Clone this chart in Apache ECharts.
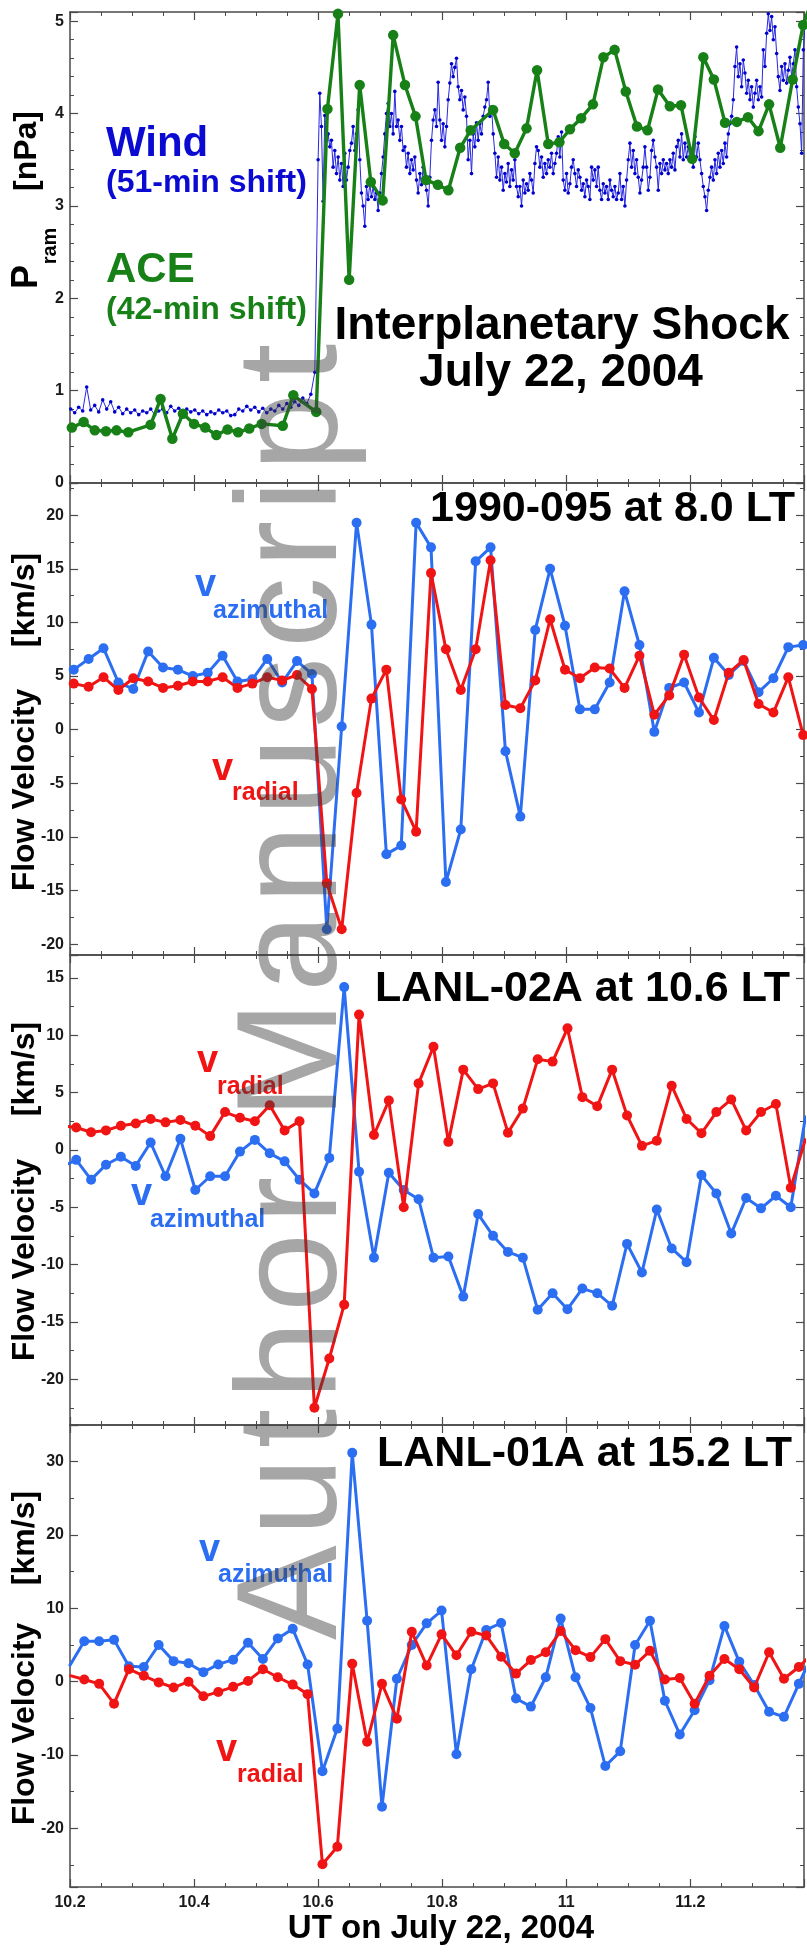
<!DOCTYPE html>
<html><head><meta charset="utf-8">
<script src="https://cdn.jsdelivr.net/npm/echarts@6.0.0/dist/echarts.min.js"></script>
<style>html,body{margin:0;padding:0;background:#fff}#c{width:807px;height:1954px}</style>
</head><body><div id="c"></div>
<script>
// ---------------- DATA ----------------
// x axis (UT hours on July 22, 2004)
const X_MIN = 10.2, X_MAX = 11.3833, X_STEP = 0.2;

// Wind ram pressure [nPa] (51-min shift)
const WIND_PRE_T0 = 10.2011, WIND_PRE_DT = 0.006452;   // pre-shock sampling
const WIND_POST_T0 = 10.6000, WIND_POST_DT = 0.002688; // post-shock sampling
const windPreP = [
0.80,0.76,0.82,0.78,1.04,0.79,0.84,0.77,0.90,0.80,
0.88,0.77,0.82,0.75,0.80,0.76,0.79,0.74,0.78,0.76,
0.80,0.74,0.78,0.80,0.76,0.83,0.78,0.81,0.76,0.80,
0.77,0.79,0.75,0.78,0.74,0.77,0.75,0.79,0.76,0.78,
0.73,0.74,0.80,0.78,0.83,0.79,0.82,0.77,0.81,0.76,
0.80,0.78,0.84,0.80,0.86,0.82,0.88,0.84,0.92,0.86,
0.96,1.20];
const windPostP = [
3.50,4.22,3.86,3.05,3.98,3.71,3.78,3.64,3.71,3.42,
3.60,3.35,3.53,3.28,3.46,3.21,3.57,3.28,3.42,3.60,
3.68,3.86,3.60,3.78,4.04,3.50,3.14,3.00,2.78,3.21,
3.07,3.24,3.10,3.21,3.07,3.14,2.95,3.14,3.35,3.53,
3.78,4.00,4.11,3.86,4.00,3.78,4.24,3.86,3.93,3.71,
3.86,3.60,3.64,3.42,3.57,3.35,3.50,3.39,3.53,3.28,
3.14,3.35,3.23,3.42,3.28,3.17,3.00,3.31,3.71,3.93,
4.04,3.86,4.34,3.93,3.71,3.89,3.64,3.86,4.15,4.33,
4.54,4.40,4.50,4.60,4.29,4.15,4.25,4.04,4.18,3.97,
3.50,3.71,3.35,3.78,3.64,3.90,
3.71,3.89,3.78,3.97,4.07,4.15,4.34,3.97,4.07,3.78,
3.57,3.31,3.53,3.28,3.42,3.17,3.35,3.26,3.46,3.21,
3.39,3.28,3.50,3.21,3.10,3.21,3.00,3.28,3.14,3.24,
3.17,3.35,3.28,3.14,3.46,3.64,3.60,3.42,3.53,3.31,
3.46,3.35,3.50,3.42,3.57,3.35,3.46,3.57,3.75,3.53,
3.80,3.28,3.17,3.35,3.14,3.24,3.42,3.50,3.35,3.21,
3.39,3.31,3.17,3.24,3.10,3.28,3.21,3.07,3.42,3.28,
3.39,3.21,3.42,3.17,3.07,3.24,3.14,3.21,3.07,3.28,
3.17,3.10,3.21,3.07,3.14,3.35,3.07,3.21,3.00,3.28,
3.50,3.68,3.42,3.60,3.35,3.50,3.31,3.14,3.28,3.42,
3.64,
3.42,3.17,3.31,3.60,3.71,3.53,3.42,3.17,3.46,3.35,
3.50,3.39,3.46,3.35,3.50,3.42,3.57,3.39,3.64,3.71,
3.53,3.78,3.50,3.68,3.53,3.64,3.50,3.60,3.42,3.75,
3.53,3.68,3.50,3.35,3.21,3.10,2.95,3.17,3.31,3.42,
3.28,3.50,3.35,3.57,3.42,3.60,3.46,3.68,3.53,3.78,
3.89,3.97,4.15,4.51,4.72,4.40,4.54,4.29,4.58,4.44,
4.22,4.36,4.15,4.29,4.07,4.22,4.36,4.15,4.29,4.18,
4.69,4.51,4.87,5.08,4.90,5.05,4.80,4.94,4.65,4.40,
4.25,4.51,4.36,4.54,4.33,4.47,4.61,4.40,4.54,4.69,
4.29,4.07,3.89,3.57,4.69,4.94];

// ACE ram pressure [nPa] (42-min shift)
const aceTime = [10.203,10.222,10.240,10.258,10.275,10.294,10.330,10.346,10.365,10.382,
10.400,10.418,10.436,10.454,10.471,10.489,10.509,10.543,10.560,10.597,
10.615,10.632,10.650,10.667,10.685,10.704,10.721,10.740,10.757,10.774,
10.793,10.810,10.829,10.846,10.882,10.900,10.917,10.936,10.953,10.971,
10.989,11.006,11.024,11.043,11.060,11.078,11.096,11.114,11.131,11.148,
11.167,11.185,11.203,11.221,11.238,11.256,11.275,11.293,11.310,11.327,
11.345,11.365,11.382,11.400];
const aceP = [0.60,0.66,0.57,0.56,0.57,0.55,0.63,0.91,0.48,0.75,
0.64,0.60,0.52,0.58,0.55,0.59,0.64,0.62,0.95,0.77,
4.05,5.08,2.20,4.31,3.26,3.06,4.85,4.31,3.97,3.28,
3.23,3.17,3.63,3.82,4.04,3.67,3.57,3.84,4.47,3.67,
3.69,3.83,3.95,4.10,4.61,4.69,4.24,3.86,3.82,4.26,
4.08,4.09,3.51,4.61,4.37,3.90,3.91,3.96,3.81,4.10,
3.63,4.37,4.96,5.30];

// 1990-095 at 8.0 LT
const s1990Time = [10.206,10.230,10.254,10.278,10.302,10.326,10.350,10.374,10.398,10.422,
10.446,10.470,10.494,10.518,10.542,10.566,10.590,10.614,10.638,10.662,
10.686,10.710,10.734,10.758,10.782,10.806,10.830,10.854,10.878,10.902,
10.926,10.950,10.974,10.998,11.022,11.046,11.070,11.094,11.118,11.142,
11.166,11.190,11.214,11.238,11.262,11.286,11.310,11.334,11.358,11.382];
const s1990Azi = [5.6,6.6,7.6,4.4,3.8,7.3,5.8,5.6,5.0,5.3,
6.9,4.5,4.7,6.6,4.4,6.4,5.2,-18.6,0.3,19.3,
9.8,-11.6,-10.8,19.3,17.0,-14.2,-9.3,15.7,17.0,-2.0,
-8.1,9.3,15.0,9.7,1.9,1.9,4.4,12.9,7.9,-0.2,
3.9,4.4,1.6,6.7,5.1,6.4,3.5,4.8,7.7,7.9];
const s1990Rad = [4.3,4.0,4.9,3.7,4.8,4.5,3.9,4.1,4.5,4.5,
4.9,3.9,4.3,4.9,4.6,5.1,3.8,-14.3,-18.6,-5.9,
2.9,5.6,-6.5,-9.5,14.6,7.5,3.7,7.5,15.8,2.3,
2.0,4.6,10.3,5.6,4.8,5.8,5.7,3.9,6.9,1.4,
3.2,7.0,3.0,0.9,5.3,6.5,2.4,1.6,4.9,-0.5];

// LANL-02A at 10.6 LT
const l02Time = [10.186,10.210,10.234,10.258,10.282,10.306,10.330,10.354,10.378,10.402,
10.426,10.450,10.474,10.498,10.522,10.546,10.570,10.594,10.618,10.642,
10.666,10.690,10.714,10.738,10.762,10.786,10.810,10.834,10.858,10.882,
10.906,10.930,10.954,10.978,11.002,11.026,11.050,11.074,11.098,11.122,
11.146,11.170,11.194,11.218,11.242,11.266,11.290,11.314,11.338,11.362,11.386];
const l02Rad = [2.1,1.95,1.54,1.7,2.1,2.3,2.7,2.4,2.6,2.1,
1.2,3.3,2.8,2.5,3.9,1.7,2.5,-22.5,-18.2,-13.5,
11.8,1.3,4.3,-5.0,5.8,9.0,0.7,7.0,5.3,5.8,
1.5,3.6,7.9,7.7,10.6,4.6,3.8,7.0,3.0,0.35,
0.8,5.6,2.7,1.45,3.3,4.4,1.7,3.3,4.0,-3.3,1.0];
const l02Azi = [-1.5,-0.87,-2.6,-1.3,-0.6,-1.4,0.64,-2.3,0.96,-3.5,
-2.3,-2.3,-0.15,0.87,-0.3,-1.0,-2.6,-3.8,-0.7,14.2,
-1.9,-9.4,-2.0,-3.5,-4.3,-9.4,-9.3,-12.8,-5.6,-7.5,
-8.9,-9.4,-13.95,-12.5,-13.9,-12.1,-12.5,-13.6,-8.2,-10.7,
-5.2,-8.6,-9.8,-2.2,-3.8,-7.3,-4.2,-5.1,-4.0,-5.0,3.0];

// LANL-01A at 15.2 LT
const l01Time = [10.199,10.223,10.247,10.271,10.295,10.319,10.343,10.367,10.391,10.415,
10.439,10.463,10.487,10.511,10.535,10.559,10.583,10.607,10.631,10.655,
10.679,10.703,10.727,10.751,10.775,10.799,10.823,10.847,10.871,10.895,
10.919,10.943,10.967,10.991,11.015,11.039,11.063,11.087,11.111,11.135,
11.159,11.183,11.207,11.231,11.255,11.279,11.303,11.327,11.351,11.375,11.399];
const l01Rad = [0.86,0.3,-0.3,-3.0,1.7,0.8,-0.1,-0.8,0.0,-2.0,
-1.4,-0.7,0.1,1.7,0.6,-0.4,-1.7,-24.9,-22.5,2.45,
-8.2,-0.3,-5.05,6.8,2.2,6.45,3.6,6.8,6.3,3.4,
1.1,2.95,4.0,6.9,4.3,3.35,5.8,2.8,2.3,4.2,
0.3,0.5,-3.0,0.8,3.1,1.7,-0.8,4.0,0.4,2.0,4.0];
const l01Azi = [2.1,5.5,5.5,5.7,2.1,2.0,5.0,2.8,2.5,1.3,
2.35,3.0,5.3,3.1,5.9,7.2,2.35,-12.2,-6.4,31.2,
8.3,-17.05,0.4,5.0,7.95,9.7,-9.9,1.7,7.05,8.0,
-2.3,-3.4,0.6,8.6,0.6,-3.6,-11.5,-9.5,5.0,8.3,
-2.6,-7.2,-3.9,0.2,7.6,2.7,-0.45,-4.1,-4.8,-0.3,4.1];

// y-axis ranges and tick steps per panel
const yMins = [0, -21, -24, -28];
const yMaxs = [5.1, 23, 17, 35];
const ySteps = [1, 5, 5, 10];
const yMinorSplits = [5, 2, 2, 2];

// ---------------- BUILD ----------------
const windTime = windPreP.map((_, i) => WIND_PRE_T0 + i * WIND_PRE_DT)
  .concat(windPostP.map((_, i) => WIND_POST_T0 + i * WIND_POST_DT));
const windP = windPreP.concat(windPostP);
const pairs = (t, v) => t.map((x, i) => [x, v[i]]);

const FONT = '"Liberation Sans", Arial, Helvetica, sans-serif';
const AX = '#4a4a4a';
const BLUE = '#2b6ef2', RED = '#f01414', GREEN = '#178017', WINDC = '#0000cc';
const isMult = (v, s) => { const q = v / s; return Math.abs(q - Math.round(q)) < 1e-6; };

const layout = [
  {top: 12, height: 471}, {top: 483, height: 472},
  {top: 955, height: 470}, {top: 1425, height: 462}
];

const grids = [], xAxes = [], yAxes = [];
layout.forEach((p, g) => {
  grids.push({left: 70, right: 3, top: p.top, height: p.height, containLabel: false, outerBoundsMode: 'none'});
  ['bottom', 'top'].forEach(pos => xAxes.push({
    type: 'value', gridIndex: g, position: pos, min: X_MIN, max: X_MAX, interval: X_STEP,
    axisLine: {show: true, onZero: false, lineStyle: {color: AX, width: 1.5}},
    axisTick: {show: true, inside: true, length: 8, lineStyle: {color: AX, width: 1.2}},
    minorTick: {show: true, splitNumber: 4, length: 4, lineStyle: {color: AX, width: 1}},
    splitLine: {show: false}, minorSplitLine: {show: false},
    axisLabel: {show: g === 3 && pos === 'bottom', margin: 8, color: '#1a1a1a', fontSize: 16,
      fontWeight: 'bold', fontFamily: FONT,
      formatter: v => isMult(v, X_STEP) ? String(+v.toFixed(2)) : ''}
  }));
  ['left', 'right'].forEach(pos => yAxes.push({
    type: 'value', gridIndex: g, position: pos, min: yMins[g], max: yMaxs[g],
    minInterval: ySteps[g], maxInterval: ySteps[g],
    splitNumber: Math.round((yMaxs[g] - yMins[g]) / ySteps[g]),
    axisLine: {show: true, onZero: false, lineStyle: {color: AX, width: 1.5}},
    axisTick: {show: true, inside: true, length: 8, lineStyle: {color: AX, width: 1.2}},
    minorTick: {show: true, splitNumber: yMinorSplits[g], length: 4, lineStyle: {color: AX, width: 1}},
    splitLine: {show: false}, minorSplitLine: {show: false},
    axisLabel: {show: pos === 'left', margin: 6, color: '#1a1a1a', fontSize: 16,
      fontWeight: 'bold', fontFamily: FONT,
      formatter: v => isMult(v, ySteps[g]) ? String(Math.round(v)) : ''}
  }));
});

function lineSeries(g, data, color, size, width, z, lineColor) {
  return {type: 'line', xAxisIndex: 2 * g, yAxisIndex: 2 * g, data: data,
    symbol: 'circle', symbolSize: size, showSymbol: true, clip: true, silent: true,
    lineStyle: {color: lineColor || color, width: width}, itemStyle: {color: color}, z: z,
    emphasis: {disabled: true}, animation: false};
}

const series = [
  lineSeries(0, pairs(windTime, windP), WINDC, 3.6, 1, 2, '#2828e0'),
  lineSeries(0, pairs(aceTime, aceP), GREEN, 10.5, 3.4, 3),
  lineSeries(1, pairs(s1990Time, s1990Azi), BLUE, 10, 3, 2),
  lineSeries(1, pairs(s1990Time, s1990Rad), RED, 10, 3, 3),
  lineSeries(2, pairs(l02Time, l02Azi), BLUE, 10, 3, 2),
  lineSeries(2, pairs(l02Time, l02Rad), RED, 10, 3, 3),
  lineSeries(3, pairs(l01Time, l01Azi), BLUE, 10, 3, 2),
  lineSeries(3, pairs(l01Time, l01Rad), RED, 10, 3, 3)
];

// text helper: (x, baseline) placement; rot = rotation in radians
function T(text, x, base, fs, fill, align, opts) {
  opts = opts || {};
  const rot = opts.rot || 0;
  const weight = opts.weight || 'bold';
  const family = opts.family || FONT;
  const off = (opts.mid != null ? opts.mid : 0.32) * fs;
  const el = {type: 'text', z: opts.z || 50, silent: true,
    style: {text: text, x: 0, y: 0, font: weight + ' ' + fs + 'px ' + family, fill: fill,
      align: align, textAlign: align, verticalAlign: 'middle', textVerticalAlign: 'middle'}};
  if (rot) { el.rotation = rot; el.x = base - off; el.y = x; }
  else { el.x = x; el.y = base - off; }
  return el;
}
const R = Math.PI / 2;
const graphics = [
  // panel 1 labels
  T('Wind', 106, 158, 42, '#0a0ad2', 'left'),
  T('(51-min shift)', 106, 193, 32, '#0a0ad2', 'left'),
  T('ACE', 106, 284, 42, GREEN, 'left'),
  T('(42-min shift)', 106, 320, 32, GREEN, 'left'),
  T('Interplanetary Shock', 562, 341, 46, '#000', 'center'),
  T('July 22, 2004', 561, 388, 46, '#000', 'center'),
  // titles
  T('1990-095 at 8.0 LT', 795, 523, 43, '#000', 'right'),
  T('LANL-02A at 10.6 LT', 790, 1003, 43, '#000', 'right'),
  T('LANL-01A at 15.2 LT', 792, 1468, 43, '#000', 'right'),
  // v labels
  T('v', 195, 598, 38, BLUE, 'left'), T('azimuthal', 213, 619, 25, BLUE, 'left'),
  T('v', 212, 782, 38, RED, 'left'), T('radial', 232, 801, 25, RED, 'left'),
  T('v', 197, 1074, 38, RED, 'left'), T('radial', 217, 1095, 25, RED, 'left'),
  T('v', 131, 1207, 38, BLUE, 'left'), T('azimuthal', 150, 1228, 25, BLUE, 'left'),
  T('v', 199, 1563, 38, BLUE, 'left'), T('azimuthal', 218, 1583, 25, BLUE, 'left'),
  T('v', 216, 1763, 38, RED, 'left'), T('radial', 237, 1783, 25, RED, 'left'),
  // y axis names (rotated)
  T('P', 277, 39, 36, '#000', 'center', {rot: R}),
  T('ram', 246, 57, 20, '#000', 'center', {rot: R}),
  T('[nPa]', 151, 37, 32, '#000', 'center', {rot: R}),
  T('Flow Velocity', 790, 35, 32, '#000', 'center', {rot: R}),
  T('[km/s]', 600, 35, 32, '#000', 'center', {rot: R}),
  T('Flow Velocity', 1260, 35, 32, '#000', 'center', {rot: R}),
  T('[km/s]', 1069, 35, 32, '#000', 'center', {rot: R}),
  T('Flow Velocity', 1724, 35, 32, '#000', 'center', {rot: R}),
  T('[km/s]', 1538, 35, 32, '#000', 'center', {rot: R}),
  // x axis name
  T('UT on July 22, 2004', 441, 1939, 33, '#000', 'center')
];

// watermark, laid out letter by letter (reads bottom to top)
(function () {
  const WM = 'Author Manuscript';
  const fam = '"Liberation Sans", Arial, sans-serif';
  const fs = 142, spacing = 9;
  const ctx = document.createElement('canvas').getContext('2d');
  ctx.font = 'normal ' + fs + 'px ' + fam;
  let pos = 1640;
  for (const ch of WM) {
    if (ch !== ' ') {
      graphics.push(T(ch, pos, 342, fs, 'rgba(60,60,60,0.46)', 'left',
        {rot: R, weight: 'normal', family: fam, z: 200}));
    }
    pos -= ctx.measureText(ch).width + spacing;
  }
})();

const chart = echarts.init(document.getElementById('c'), null, {renderer: 'canvas'});
chart.setOption({
  animation: false,
  backgroundColor: '#ffffff',
  grid: grids, xAxis: xAxes, yAxis: yAxes, series: series,
  graphic: {elements: graphics}
});
</script></body></html>
